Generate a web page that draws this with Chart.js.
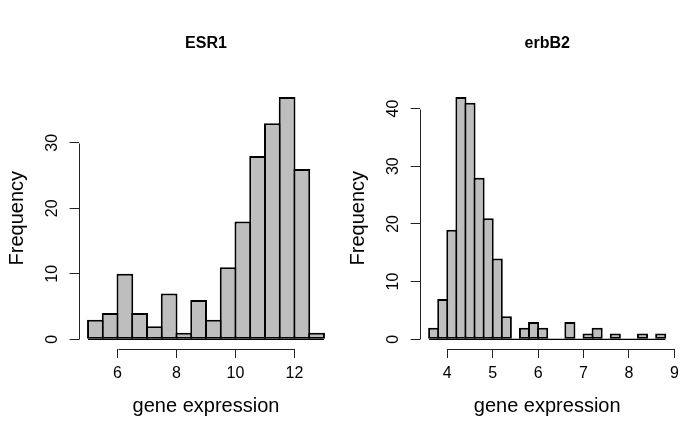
<!DOCTYPE html>
<html><head><meta charset="utf-8">
<script src="https://cdn.jsdelivr.net/npm/chart.js@4.4.1/dist/chart.umd.min.js"></script>
<style>
html,body{margin:0;padding:0;background:#fff;}
#wrap{position:relative;width:685px;height:428px;overflow:hidden;}
.c{position:absolute;top:0;height:428px;}
canvas{display:block;}
</style></head><body>
<div id="wrap">
<div class="c" style="left:0;width:342px"><canvas id="c1" width="342" height="428"></canvas></div>
<div class="c" style="left:342px;width:343px"><canvas id="c2" width="343" height="428"></canvas></div>
</div>
<script>
// ---- data ----
const esr1Title = 'ESR1';
const esr1Breaks = [5, 5.5, 6, 6.5, 7, 7.5, 8, 8.5, 9, 9.5, 10, 10.5, 11, 11.5, 12, 12.5, 13];
const esr1Counts = [3, 4, 10, 4, 2, 7, 1, 6, 3, 11, 18, 28, 33, 37, 26, 1];
const esr1XTicks = [6, 8, 10, 12];
const esr1YTicks = [0, 10, 20, 30];

const erbb2Title = 'erbB2';
const erbb2Breaks = [3.6, 3.8, 4.0, 4.2, 4.4, 4.6, 4.8, 5.0, 5.2, 5.4, 5.6, 5.8, 6.0, 6.2, 6.4, 6.6, 6.8, 7.0, 7.2, 7.4, 7.6, 7.8, 8.0, 8.2, 8.4, 8.6, 8.8];
const erbb2Counts = [2, 7, 19, 42, 41, 28, 21, 14, 4, 0, 2, 3, 2, 0, 0, 3, 0, 1, 2, 0, 1, 0, 0, 1, 0, 1];
const erbb2XTicks = [4, 5, 6, 7, 8, 9];
const erbb2YTicks = [0, 10, 20, 30, 40];

const xLabel = 'gene expression';
const yLabel = 'Frequency';

// ---- styling / layout ----
const FONT = "'Liberation Sans', Arial, Helvetica, sans-serif";
const H = 428, AREA_TOP = 87.3, AREA_BOTTOM = 349;
const TICK_LEN = 9;
const FILL = '#bebebe', EDGE = '#000', AXIS = '#222';

const rAxes = {
  id: 'rAxes',
  afterDraw(chart, args, opts) {
    const {ctx, chartArea: a, scales: {x, y}} = chart;
    const xt = opts.xTicks, yt = opts.yTicks;
    ctx.save();
    ctx.strokeStyle = AXIS;
    ctx.lineWidth = 1;
    ctx.beginPath();
    const yb = Math.round(a.bottom) + 0.5;
    ctx.moveTo(Math.round(x.getPixelForValue(xt[0])) + 0.5, yb);
    ctx.lineTo(Math.round(x.getPixelForValue(xt[xt.length - 1])) + 0.5, yb);
    const xl = Math.round(a.left) + 0.5;
    ctx.moveTo(xl, Math.round(y.getPixelForValue(yt[0])) + 0.5);
    ctx.lineTo(xl, Math.round(y.getPixelForValue(yt[yt.length - 1])) + 0.5);
    ctx.stroke();
    ctx.restore();
  }
};

function makeHist(id, W, L, R, breaks, counts, xTicks, yTicks, title) {
  const n = breaks.length;
  const xr = breaks[n - 1] - breaks[0];
  const xmin = breaks[0] - 0.04 * xr, xmax = breaks[n - 1] + 0.04 * xr;
  const cmax = Math.max(...counts);
  const ymin = -0.04 * cmax, ymax = 1.04 * cmax;
  const binPx = (R - L) * (breaks[1] - breaks[0]) / (xmax - xmin);
  const barPct = (binPx + 2) / binPx;
  const bars = counts.map((c, i) => ({x: (breaks[i] + breaks[i + 1]) / 2, y: c}));
  const base = [{x: breaks[0], y: 0}, {x: breaks[n - 1], y: 0}];
  const titleH = 16 * 1.2;
  const titleTop = 43.5 - titleH / 2;

  return new Chart(document.getElementById(id), {
    type: 'bar',
    data: {
      datasets: [
        {type: 'line', data: base, borderColor: EDGE, borderWidth: 1.2, pointRadius: 0, order: 0},
        {type: 'bar', data: bars, backgroundColor: FILL, borderColor: EDGE, borderWidth: 2,
         borderSkipped: false, barPercentage: barPct, categoryPercentage: 1, grouped: false, order: 1}
      ]
    },
    options: {
      responsive: false,
      animation: false,
      devicePixelRatio: 1,
      events: [],
      layout: {padding: {left: 0, right: W - R, top: 0, bottom: 0}},
      plugins: {
        legend: {display: false},
        tooltip: {enabled: false},
        title: {display: true, text: title, color: '#000', fullSize: false,
                font: {family: FONT, size: 16, weight: 'bold'},
                padding: {top: titleTop, bottom: AREA_TOP - titleTop - titleH}},
        rAxes: {xTicks: xTicks, yTicks: yTicks}
      },
      scales: {
        x: {
          type: 'linear', min: xmin, max: xmax, offset: false,
          afterBuildTicks: s => { s.ticks = xTicks.map(v => ({value: v})); },
          afterFit: s => { s.height = H - AREA_BOTTOM; },
          border: {display: false},
          grid: {display: true, drawOnChartArea: false, drawTicks: true, tickLength: TICK_LEN,
                 color: AXIS, lineWidth: 1, offset: false},
          ticks: {color: '#000', font: {family: FONT, size: 16}, padding: 6, maxRotation: 0,
                  autoSkip: false, callback: v => String(v)},
          title: {display: true, text: xLabel, color: '#000', font: {family: FONT, size: 20},
                  padding: {top: 0, bottom: 10}}
        },
        y: {
          type: 'linear', position: 'left', min: ymin, max: ymax,
          afterBuildTicks: s => { s.ticks = yTicks.map(v => ({value: v})); },
          afterFit: s => { s.width = L; },
          border: {display: false},
          grid: {display: true, drawOnChartArea: false, drawTicks: true, tickLength: TICK_LEN,
                 color: AXIS, lineWidth: 1},
          ticks: {color: '#000', font: {family: FONT, size: 16}, padding: 8,
                  minRotation: 90, maxRotation: 90, crossAlign: 'center',
                  autoSkip: false, callback: v => String(v)},
          title: {display: true, text: yLabel, color: '#000', font: {family: FONT, size: 20},
                  padding: {top: L - 61.5 - 12, bottom: 0}}
        }
      }
    },
    plugins: [rAxes]
  });
}

makeHist('c1', 342, 78.6, 333.4, esr1Breaks, esr1Counts, esr1XTicks, esr1YTicks, esr1Title);
makeHist('c2', 343, 77.7, 332.7, erbb2Breaks, erbb2Counts, erbb2XTicks, erbb2YTicks, erbb2Title);
</script>
</body></html>
